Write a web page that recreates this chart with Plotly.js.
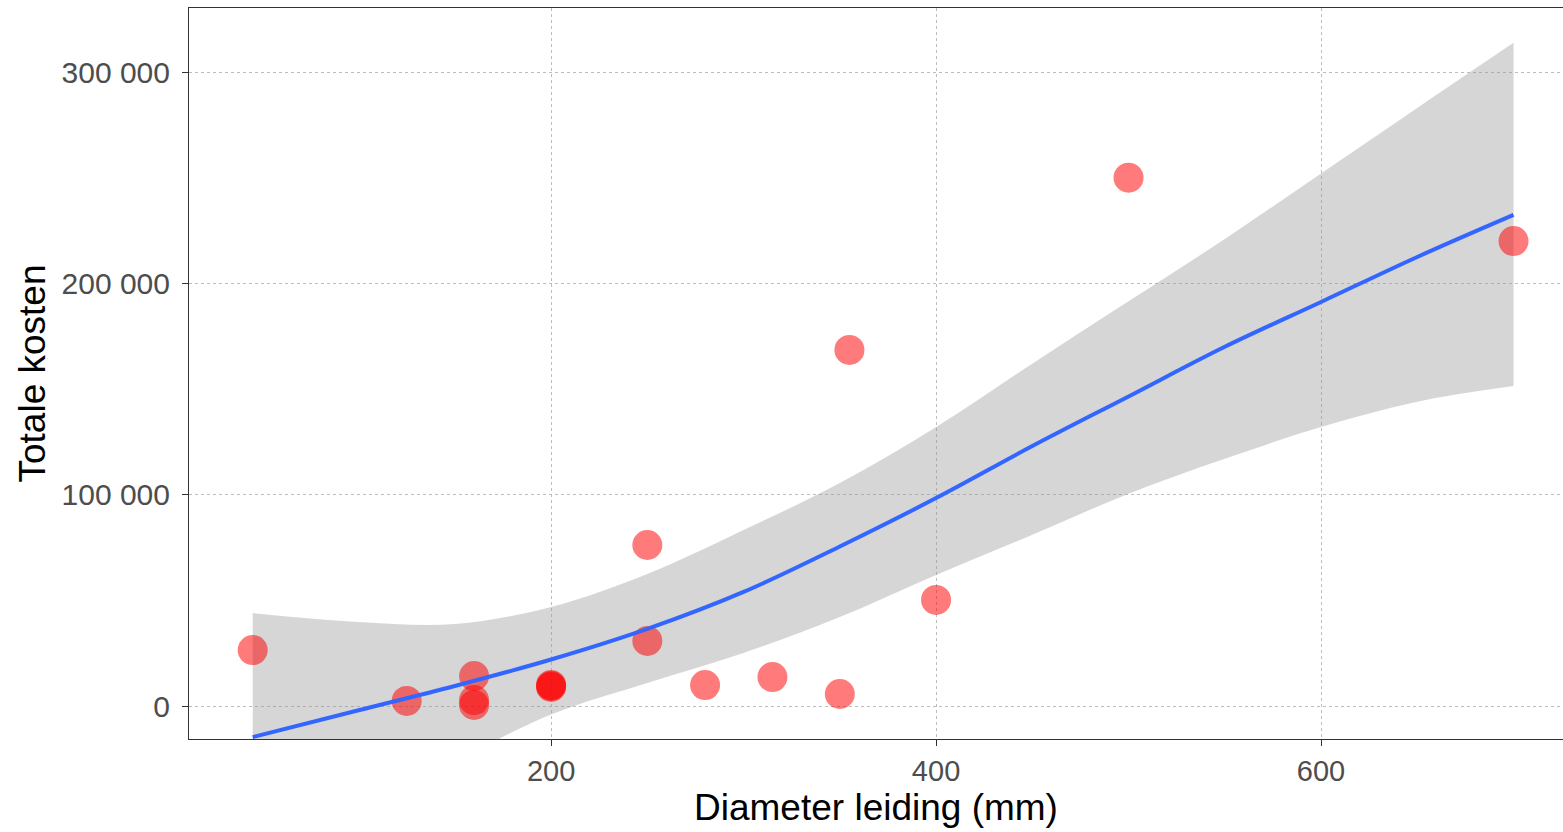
<!DOCTYPE html>
<html>
<head>
<meta charset="utf-8">
<script src="https://cdn.plot.ly/plotly-3.0.1.min.js"></script>
<style>html,body{margin:0;padding:0;background:#fff;}#chart{width:1563px;height:832px;}</style>
</head>
<body>
<div id="chart"></div>
<script>
// Observations
const diameter = [45, 125, 160, 160, 160, 200, 200, 200, 250, 250, 280, 315, 350, 355, 400, 500, 700];
const kosten   = [26500, 2400, 14200, 2800, 500, 9000, 9500, 10000, 76200, 30800, 9900, 13700, 5700, 168500, 50200, 250000, 220000];

// Smoother (fit and confidence band)
const smoothX     = [45, 100, 150, 200, 250, 300, 350, 400, 450, 500, 550, 600, 650, 700];
const smoothFit   = [-14700, -2000, 9500, 22000, 36500, 54000, 75500, 98400, 123000, 146500, 170000, 191200, 212500, 232400];
const smoothUpper = [44000, 39800, 38800, 46900, 62500, 83300, 105500, 132000, 162000, 191500, 221000, 252000, 283000, 313800];
const smoothLower = [-73400, -47000, -26000, -4000, 10900, 25100, 42100, 62000, 81000, 100500, 117000, 132000, 144000, 151400];

// Tick labels
const xTickVals = [200, 400, 600];
const xTickText = ['200', '400', '600'];
const yTickVals = [0, 100000, 200000, 300000];
const yTickText = ['0', '100 000', '200 000', '300 000'];

const FONT = 'Liberation Sans, Arial, sans-serif';

const traces = [
  {
    x: smoothX, y: smoothLower, type: 'scatter', mode: 'lines',
    line: {width: 0, color: 'rgba(0,0,0,0)', shape: 'spline', smoothing: 1},
    hoverinfo: 'skip', showlegend: false
  },
  {
    x: smoothX, y: smoothUpper, type: 'scatter', mode: 'lines',
    line: {width: 0, color: 'rgba(0,0,0,0)', shape: 'spline', smoothing: 1},
    fill: 'tonexty', fillcolor: 'rgba(153,153,153,0.4)',
    hoverinfo: 'skip', showlegend: false
  },
  {
    x: diameter, y: kosten, type: 'scatter', mode: 'markers',
    marker: {color: 'rgba(255,0,0,0.52)', size: 30, line: {width: 0}},
    hoverinfo: 'x+y', showlegend: false
  },
  {
    x: smoothX, y: smoothFit, type: 'scatter', mode: 'lines',
    line: {width: 4, color: '#3366FF', shape: 'spline', smoothing: 1},
    showlegend: false
  }
];

const layout = {
  width: 1563, height: 832,
  margin: {l: 189, r: 0, t: 8, b: 93},
  paper_bgcolor: '#ffffff', plot_bgcolor: '#ffffff',
  font: {family: FONT},
  showlegend: false,
  xaxis: {
    range: [11.9, 725.7],
    tickvals: xTickVals, ticktext: xTickText,
    tickfont: {size: 29, color: '#4D4D4D', family: FONT},
    ticks: 'outside', ticklen: 6, tickcolor: '#333333', tickwidth: 1,
    showline: true, linecolor: '#333333', linewidth: 1, mirror: true,
    showgrid: true, gridcolor: '#BDBDBD', gridwidth: 1, griddash: 'dot',
    zeroline: false, automargin: false,
    title: {text: 'Diameter leiding (mm)', font: {size: 37, color: '#000000', family: FONT}, standoff: 8}
  },
  yaxis: {
    range: [-15600, 330300],
    tickvals: yTickVals, ticktext: yTickText,
    tickfont: {size: 30, color: '#4D4D4D', family: FONT},
    ticks: 'outside', ticklen: 6, tickcolor: '#333333', tickwidth: 1,
    ticklabelstandoff: 6,
    showline: true, linecolor: '#333333', linewidth: 1, mirror: true,
    showgrid: true, gridcolor: '#BDBDBD', gridwidth: 1, griddash: 'dot',
    zeroline: false, automargin: false,
    title: {text: 'Totale kosten', font: {size: 37, color: '#000000', family: FONT}, standoff: 4}
  }
};

Plotly.newPlot('chart', traces, layout, {displayModeBar: false});
</script>
</body>
</html>
